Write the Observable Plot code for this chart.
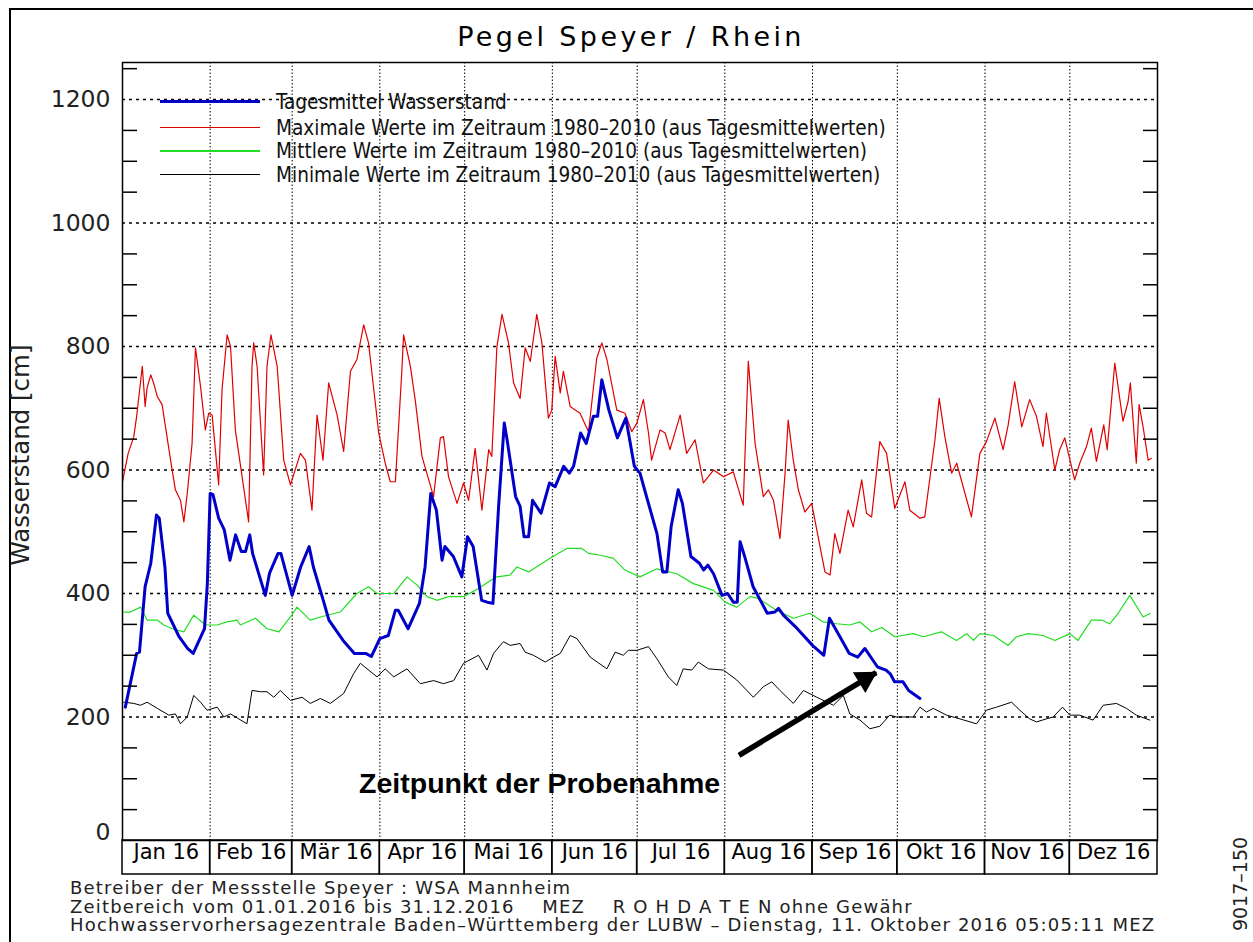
<!DOCTYPE html>
<html><head><meta charset="utf-8">
<script src="https://cdn.jsdelivr.net/npm/d3@7"></script>
<script src="https://cdn.jsdelivr.net/npm/@observablehq/plot@0.6"></script>
<style>
body{margin:0;background:#fff;}
#wrap{position:relative;width:1253px;height:942px;overflow:hidden;font-family:"DejaVu Sans",sans-serif;background:#fff;}
#wrap svg{position:absolute;left:0;top:0;}
.ov{position:absolute;white-space:pre;color:#000;line-height:1;}
.leg{font-family:"Liberation Sans Narrow","DejaVu Sans Condensed","Arial Narrow",sans-serif;font-stretch:condensed;font-size:20.6px;color:#111;}
.foot{font-family:"DejaVu Sans",sans-serif;font-size:18px;letter-spacing:1.18px;color:#222;}
</style></head><body><div id="wrap"></div><script>
// Tageswerte 2016: [Tag des Jahres (0 = 1. Jan), Wasserstand cm]
const wasserstand = [[1,216],[5,303],[6,305],[8,411],[10,449],[12,527],[13,522],[15,443],[16,368],[20,330],[23,311],[25,303],[29,343],[30,416],[31,562],[32,560],[34,522],[36,503],[38,454],[40,495],[42,468],[43.5,468],[45,495],[46,465],[50.5,397],[52,433],[55,465],[56,465],[60,397],[63,443],[66,476],[67.5,443],[71,389],[73,357],[78,324],[82,303],[86,303],[88,298],[91,327],[94,332],[96.5,373],[97.5,373],[101,343],[105,384],[107,443],[109,562],[111,535],[113,454],[114,476],[117,460],[120,427],[122,492],[124,476],[127,389],[129,386],[131,384],[133,541],[135,676],[136,649],[139,557],[140.6,541],[142,492],[143.6,492],[145,551],[148,530],[151,579],[153,573],[156,606],[158,595],[159.5,606],[162,660],[164,643],[166.5,687],[168,687],[169.5,746],[172,697],[175,652],[178,684],[181,606],[183,595],[185,562],[189,497],[191,435],[192.5,435],[194,508],[196.5,568],[198,546],[201,460],[204,449],[205.5,438],[207,446],[209,432],[212,397],[214,400],[216,386],[217.4,386],[218.4,484],[220,460],[223,411],[228,368],[230.7,370],[232,376],[233.7,365],[238,346],[244,316],[248,300],[250,360],[253.7,330],[257,303],[260,297],[262.5,311],[267,281],[270,276],[271.5,270],[273,257],[276,257],[278,243],[282,230]];
const maximum = [[0,581],[2,627],[4,654],[5,687],[7,768],[8,703],[8.7,733],[10,754],[11,741],[12.3,719],[14,706],[17,616],[18.7,568],[20.5,551],[21.7,516],[22.9,562],[24.6,643],[25.8,798],[27.6,735],[29.3,665],[30.5,692],[31.7,689],[34,576],[35.2,730],[37,819],[38.2,800],[39.9,665],[44.6,516],[45.8,768],[46.4,806],[47.6,768],[49.9,592],[51.1,768],[52.5,819],[54.7,768],[57,616],[59.4,576],[62.9,627],[64.7,616],[67,535],[68.8,689],[70.9,616],[72.9,741],[75.9,689],[78.2,630],[80.6,760],[82.9,779],[85.3,835],[87,806],[90.6,660],[92.9,611],[94.7,581],[96.5,581],[98.8,762],[99.4,819],[101.8,768],[103.5,714],[105.9,622],[110,557],[112.4,652],[113.5,654],[115.3,589],[118.3,546],[120.6,579],[122.4,551],[124.7,635],[127.1,535],[129.5,633],[130.6,622],[132.4,800],[134.2,852],[136.5,806],[138.3,741],[140.6,716],[142.4,798],[144.2,776],[146.5,852],[148.3,806],[150.6,684],[151.8,697],[153,784],[154.8,725],[155.9,760],[158.3,703],[161.8,692],[164.8,662],[167.7,781],[169.5,806],[171.3,779],[174.8,697],[177.7,692],[180.1,662],[181.9,676],[184.2,714],[186,660],[187.1,616],[190.1,665],[191.9,660],[193.6,633],[197.2,689],[199.5,627],[202.5,649],[205.4,579],[209,600],[212.5,589],[216,597],[219.5,543],[221.3,776],[223.7,643],[226.6,557],[228.4,568],[230.2,551],[232.5,489],[234.3,595],[235.4,681],[237.2,616],[239,568],[241.3,532],[243.7,546],[248.4,435],[250.2,430],[251.9,497],[253.7,465],[256.6,535],[258.4,508],[261.4,584],[263.1,530],[264.9,524],[267.8,646],[270.2,627],[273.1,538],[276.7,581],[278.4,535],[282,522],[283.7,524],[287.3,649],[288.8,716],[290.8,654],[293.2,595],[295,611],[300.2,524],[303.2,627],[305.5,646],[308.5,684],[311.4,633],[313.2,673],[315.5,743],[318,670],[320.8,714],[323.2,687],[325.5,638],[326.7,692],[329.7,600],[331.4,633],[333.2,652],[336.7,584],[338.5,611],[340.9,638],[342.6,668],[344.4,614],[347,673],[348.2,633],[350.9,773],[352.3,727],[353.8,679],[355.6,711],[356.4,741],[358.5,611],[359.5,706],[360.9,670],[362.7,616],[363.8,619]];
const mittel = [[0.5,370],[2.8,370],[6.4,378],[8.7,357],[12.3,357],[14.6,349],[17.6,343],[21.7,338],[25.2,365],[29.3,349],[33.5,349],[37,354],[40.5,357],[41.7,349],[47,360],[51.1,343],[55.3,338],[59.4,362],[61.7,378],[66.4,357],[70,362],[77,370],[82.9,400],[87,411],[90,400],[95.9,400],[100.6,427],[104.1,414],[107.7,395],[111.2,389],[115.3,395],[120.6,395],[125.9,408],[129.5,419],[132.4,427],[137.1,430],[139.5,443],[143.6,435],[151.2,457],[157.1,473],[162.4,473],[164.8,465],[169,462],[173.6,457],[177.7,438],[183,427],[188.9,440],[196,432],[201.9,416],[209,405],[213.1,386],[217.2,378],[221.9,395],[224.8,392],[231.3,373],[237.2,360],[243.1,368],[247.8,354],[252.5,351],[257.2,349],[260.8,354],[264.9,338],[268.5,345],[273.1,330],[279.6,335],[283.2,330],[289.6,338],[294.9,324],[298.5,335],[300.9,324],[303.2,335],[308,332],[313.2,316],[316.1,330],[320.3,335],[325.5,332],[329.7,324],[335,335],[337.9,324],[342.6,357],[346.2,357],[349.1,351],[352.1,368],[356.2,397],[360.9,362],[363.5,368]];
const minimum = [[0.5,224],[4,222],[6.4,219],[8.7,224],[12.3,214],[16.4,203],[18.7,205],[20.5,189],[22.9,200],[25.2,235],[27.6,224],[29.9,211],[33.5,216],[35.8,200],[38.2,205],[41.1,197],[44,189],[45.8,243],[48.8,241],[51.1,241],[53.5,232],[55.8,243],[59.4,227],[63.5,232],[66.4,222],[70,230],[73.5,222],[78.2,238],[81.7,270],[84.1,287],[90,265],[92.9,278],[95.9,265],[100.6,278],[105.3,254],[110,259],[113.5,254],[117.1,259],[120.6,287],[125.9,300],[128.9,276],[131.2,303],[134.7,322],[137.1,316],[140.6,319],[142.4,305],[145.3,300],[149.5,289],[152.4,297],[154.8,303],[158.3,332],[160.7,327],[165.4,297],[171.3,278],[174.2,305],[177.1,300],[178.9,308],[181.9,308],[186,314],[188.9,295],[193,265],[196,251],[198.3,278],[201.3,276],[203.6,289],[207.2,278],[212.5,276],[217.2,260],[223.1,232],[226.6,249],[229.6,257],[232.5,243],[237.2,222],[240.8,243],[245.5,232],[251.4,219],[254.9,235],[257.2,205],[260.8,195],[264.3,181],[267.8,185],[271.3,203],[273.7,200],[276.1,200],[279.6,200],[282,216],[284.3,208],[286.7,214],[291.4,203],[296.1,197],[302,189],[305.5,211],[309.1,216],[314.4,224],[317.3,211],[320.8,197],[323.2,192],[326.7,197],[329.1,200],[332.4,216],[335,203],[338.5,203],[343.2,195],[346.8,219],[351.5,222],[355,214],[358.5,203],[363.3,195]];

const monthLabels = ["Jan 16","Feb 16","Mär 16","Apr 16","Mai 16","Jun 16","Jul 16","Aug 16","Sep 16","Okt 16","Nov 16","Dez 16"];
const labelTicks = [200,400,600,800,1000,1200];
const minorTicks = [50,100,150,250,300,350,450,500,550,650,700,750,850,900,950,1050,1100,1150,1250];
const legendLabels = ["Tagesmittel Wasserstand","Maximale Werte im Zeitraum 1980–2010 (aus Tagesmittelwerten)","Mittlere Werte im Zeitraum 1980–2010 (aus Tagesmittelwerten)","Minimale Werte im Zeitraum 1980–2010 (aus Tagesmittelwerten)"];
const legendColors = ["#0000c8","#e00000","#22dd22","#000000"];
// Probenahme: Pfeil von [Tag, cm] nach [Tag, cm]
const probeArrow = [[218,138],[266.5,272]];
const probeText = [147.5, 91, "Zeitpunkt der Probenahme"];

const t0 = Date.UTC(2016,0,1);
const toDate = d => new Date(t0 + d*864e5);
const rows = arr => arr.map(([d,v]) => ({date: toDate(d), value: v}));
const months = monthLabels.map((label,i) => ({label, start: new Date(Date.UTC(2016,i,1)), end: new Date(Date.UTC(2016,i+1,1))}));
const yMax = 1260;
const bandBottom = -34 * yMax / (840 - 62);

const chart = Plot.plot({
  width: 1253, height: 942,
  marginLeft: 122, marginRight: 96, marginTop: 62, marginBottom: 102,
  x: {type: "utc", domain: [new Date(t0), new Date(Date.UTC(2017,0,1))], axis: null},
  y: {domain: [0, yMax], axis: null},
  style: {fontFamily: "DejaVu Sans, sans-serif", background: "white", overflow: "visible"},
  marks: [
    Plot.ruleY(labelTicks, {stroke: "#000", strokeWidth: 1.4, strokeDasharray: "3,4"}),
    Plot.ruleX(months.slice(1), {x: "start", stroke: "#000", strokeWidth: 1, strokeDasharray: "1.5,2"}),
    Plot.line(rows(minimum), {x: "date", y: "value", stroke: legendColors[3], strokeWidth: 1}),
    Plot.line(rows(mittel), {x: "date", y: "value", stroke: legendColors[2], strokeWidth: 1.2}),
    Plot.line(rows(maximum), {x: "date", y: "value", stroke: legendColors[1], strokeWidth: 1.2}),
    Plot.line(rows(wasserstand), {x: "date", y: "value", stroke: legendColors[0], strokeWidth: 3}),
    Plot.frame({stroke: "#000", strokeWidth: 1.5}),
    Plot.axisY({ticks: minorTicks, anchor: "left", tickSize: 15, dx: 15, tickFormat: () => "", label: null, stroke: "#000", strokeWidth: 1.5}),
    Plot.axisY({ticks: minorTicks, anchor: "right", tickSize: 15, dx: -15, tickFormat: () => "", label: null, stroke: "#000", strokeWidth: 1.5}),
    Plot.axisY({ticks: labelTicks, anchor: "left", tickSize: 0, tickPadding: 12, fontSize: 23.5, label: null, tickFormat: d => String(d), fill: "#222"}),
    Plot.axisY({ticks: [0], anchor: "left", tickSize: 0, tickPadding: 12, fontSize: 23.5, label: null, tickFormat: d => String(d), dy: -8, fill: "#222"}),
    Plot.rect(months, {x1: "start", x2: "end", y1: 0, y2: bandBottom, stroke: "#000", strokeWidth: 1.5, fill: "none"}),
    Plot.text(months, {x: d => new Date((+d.start + +d.end) / 2), frameAnchor: "bottom", dy: 18, text: "label", fontSize: 21, fill: "#000"}),
    Plot.link([probeArrow], {x1: d => toDate(d[0][0]), y1: d => d[0][1], x2: d => toDate(d[1][0]), y2: d => d[1][1], stroke: "#000", strokeWidth: 5.5}),
    Plot.dot([probeArrow[1]], {x: d => toDate(d[0]), y: d => d[1], symbol: "triangle", r: 9, rotate: 59, fill: "#000", stroke: "none", dx: -11, dy: 6.5}),
    Plot.text([probeText], {x: d => toDate(d[0]), y: d => d[1], text: d => d[2], fontFamily: "Liberation Sans, Arial, sans-serif", fontWeight: "bold", fontSize: 28.5, fill: "#000"})
  ]
});

const wrap = document.getElementById("wrap");
wrap.appendChild(chart);

function ov(html, style, cls) {
  const d = document.createElement("div");
  d.className = "ov" + (cls ? " " + cls : "");
  d.setAttribute("style", style);
  d.innerHTML = html;
  wrap.appendChild(d);
  return d;
}
// outer border
ov("", "left:9px;top:8px;width:1250px;height:940px;border-top:2px solid #000;border-left:2px solid #000;");
// title
ov("Pegel Speyer / Rhein", "left:0;top:36px;width:1262px;text-align:center;transform:translateY(-50%);font-size:27px;letter-spacing:3.4px;");
// y label
ov("Wasserstand [cm]", "left:21px;top:455px;transform:translate(-50%,-50%) rotate(-90deg);font-size:24.5px;color:#222;");
// right note
ov("9017–150", "left:1240px;top:884px;transform:translate(-50%,-50%) rotate(-90deg);font-size:19px;color:#222;");
// legend
const legY = [101.5, 127.5, 151, 174.5];
legendLabels.forEach((t, i) => {
  ov("", `left:160px;top:${legY[i] - (i === 0 ? 1.5 : 0.75)}px;width:100px;height:${i === 0 ? 3 : 1.5}px;background:${legendColors[i]};`);
  ov(t, `left:276px;top:${legY[i]}px;transform:translateY(-50%);`, "leg");
});
// footer
const footer = ["Betreiber der Messstelle Speyer : WSA Mannheim",
  "Zeitbereich vom 01.01.2016 bis 31.12.2016    MEZ    R O H D A T E N ohne Gewähr",
  "Hochwasservorhersagezentrale Baden–Württemberg der LUBW – Dienstag, 11. Oktober 2016 05:05:11 MEZ"];
const footY = [888, 906.5, 925];
footer.forEach((t, i) => ov(t, `left:70px;top:${footY[i]}px;transform:translateY(-50%);`, "foot"));
</script></body></html>
